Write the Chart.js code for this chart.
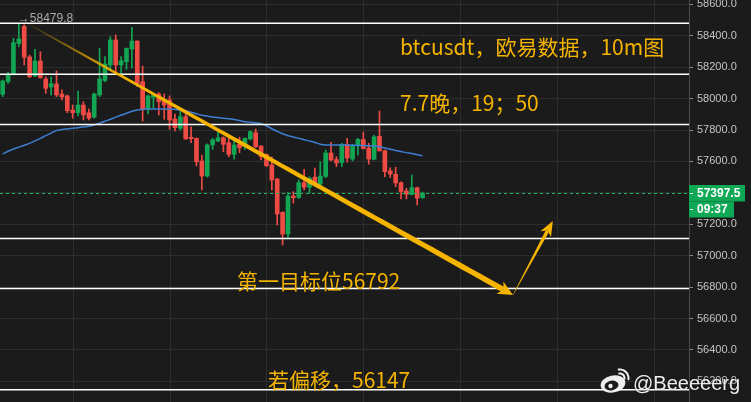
<!DOCTYPE html>
<html>
<head>
<meta charset="utf-8">
<script src="https://cdn.jsdelivr.net/npm/chart.js@4"></script>
<style>
  html, body { margin: 0; padding: 0; background: #1b1b1b; overflow: hidden; }
  canvas { display: block; }
</style>
</head>
<body>
<canvas id="c" width="751" height="402"></canvas>
<script>
// BTC/USDT 10-minute candles (OKX)
const candleOpen = [
  58027, 58108, 58158, 58350, 58460, 58265, 58144, 58239, 58125, 58074,
  58093, 58029, 58017, 57927, 57910, 57959, 57910, 57881, 58023, 58115,
  58214, 58373, 58214, 58235, 58316, 58366, 58107, 57932, 58008, 58029,
  57991, 57991, 57870, 57811, 57885, 57754, 57747, 57603, 57507, 57705,
  57730, 57751, 57719, 57645, 57709, 57694, 57743, 57783, 57698, 57645,
  57577, 57488, 57276, 57138, 57380, 57370, 57465, 57436, 57500, 57455,
  57505, 57654, 57612, 57593, 57709, 57615, 57702, 57740, 57685, 57614,
  57760, 57668, 57540, 57518, 57465, 57412, 57391, 57433, 57369
];
const candleHigh = [
  58118, 58167, 58384, 58479.8, 58470, 58277, 58314, 58298, 58139, 58139,
  58176, 58055, 58023, 57959, 58048, 57980, 57934, 58036, 58320, 58267,
  58394, 58405, 58267, 58322, 58454, 58368, 58207, 58023, 58034, 58038,
  58029, 58017, 57902, 57917, 57902, 57821, 57750, 57641, 57711, 57747,
  57789, 57757, 57751, 57737, 57754, 57751, 57796, 57806, 57700, 57648,
  57630, 57492, 57280, 57401, 57408, 57482, 57550, 57503, 57558, 57598,
  57673, 57722, 57630, 57715, 57747, 57709, 57747, 57786, 57715, 57768,
  57921, 57672, 57560, 57563, 57470, 57429, 57514, 57436, 57405
];
const candleLow = [
  58012, 58097, 58150, 58330, 58214, 58133, 58139, 58129, 58034, 58023,
  58012, 57991, 57910, 57875, 57889, 57864, 57864, 57875, 58012, 58107,
  58182, 58161, 58150, 58186, 58193, 58076, 57857, 57902, 57938, 57896,
  57868, 57805, 57794, 57800, 57740, 57719, 57571, 57418, 57500, 57677,
  57726, 57662, 57630, 57615, 57656, 57677, 57737, 57688, 57609, 57567,
  57418, 57196, 57068, 57111, 57334, 57365, 57418, 57397, 57444, 57439,
  57497, 57603, 57567, 57567, 57595, 57603, 57641, 57679, 57582, 57609,
  57665, 57503, 57497, 57439, 57361, 57361, 57386, 57323, 57365
];
const candleClose = [
  58112, 58155, 58356, 58380, 58263, 58139, 58239, 58133, 58065, 58095,
  58023, 58010, 57923, 57910, 57959, 57896, 57875, 58029, 58125, 58220,
  58373, 58214, 58241, 58320, 58366, 58097, 57932, 58017, 58023, 57980,
  57959, 57864, 57815, 57885, 57743, 57745, 57598, 57507, 57705, 57737,
  57751, 57709, 57645, 57705, 57687, 57747, 57789, 57694, 57630, 57573,
  57482, 57266, 57138, 57380, 57369, 57465, 57436, 57493, 57463, 57507,
  57654, 57609, 57590, 57709, 57622, 57702, 57740, 57682, 57615, 57757,
  57668, 57535, 57520, 57463, 57408, 57391, 57433, 57367, 57397.5
];
// moving average of the close
const movingAverage = [
  57647, 57665, 57679, 57691, 57703, 57715, 57731, 57747, 57764, 57780,
  57797, 57803, 57807, 57811, 57815, 57820, 57824, 57833, 57843, 57856,
  57868, 57882, 57894, 57907, 57919, 57928, 57931, 57933, 57934, 57934,
  57934, 57934, 57931, 57927, 57922, 57913, 57903, 57894, 57889, 57883,
  57879, 57875, 57871, 57867, 57860, 57853, 57849, 57845, 57840, 57827,
  57808, 57791, 57776, 57764, 57756, 57747, 57738, 57730, 57721, 57710,
  57705, 57705, 57705, 57705, 57704, 57703, 57702, 57701, 57700, 57699,
  57694, 57686, 57677, 57670, 57663, 57656, 57650, 57643, 57636
];
const priceTicks = [56200, 56400, 56600, 56800, 57000, 57200, 57400, 57600, 57800, 58000, 58200, 58400, 58600];
const levelLines = [58479.8, 58155, 57835, 57110, 56792, 56147];
const lastPrice = 57397.5;
const countdownText = '09:37';
const sessionHigh = 58479.8;
const sessionHighIndex = 3;
const timeGridSlots = [13, 31, 49, 67, 85, 103, 121];
const slotCount = 128;
const slots = Array.from({ length: slotCount }, (_, i) => String(i));

// drawn price path: [slot, price]
const pathArrows = [
  { from: [4.5, 58479.8], to: [94.8, 56750] },
  { from: [94.8, 56750], to: [102.2, 57221] }
];
const noteTexts = ['btcusdt，欧易数据，10m图', '7.7晚，19；50', '第一目标位56792', '若偏移，56147'];
const watermarkText = '@Beeeeerg';

// ---- styles ----
const UP = '#12a553';
const DOWN = '#ef4b45';
const GOLD = '#f5b400';
const noteLayout = [
  { x: 400, y: 55 },
  { x: 400, y: 111 },
  { x: 237, y: 288.5 },
  { x: 268, y: 388 }
];

const candleColors = candleOpen.map((o, i) => candleClose[i] >= o ? UP : DOWN);
const bodies = candleOpen.map((o, i) => [o, candleClose[i]]);
const wicks = candleLow.map((l, i) => [l, candleHigh[i]]);

function taperArrow(ctx, x0, y0, x1, y1, o) {
  const dx = x1 - x0, dy = y1 - y0, L = Math.hypot(dx, dy);
  const ux = dx / L, uy = dy / L, nx = -uy, ny = ux;
  const shaftLen = L - o.headLen * 0.75;
  const N = 60, left = [], right = [];
  for (let k = 0; k <= N; k++) {
    const t = k / N, s = t * shaftLen;
    const w = (o.w0 + (o.w1 - o.w0) * Math.pow(t, o.pow)) / 2;
    const px = x0 + ux * s, py = y0 + uy * s;
    left.push([px + nx * w, py + ny * w]);
    right.push([px - nx * w, py - ny * w]);
  }
  const grad = ctx.createLinearGradient(x0, y0, x1, y1);
  grad.addColorStop(0, o.startColor);
  grad.addColorStop(o.fade, o.color);
  grad.addColorStop(1, o.color);
  ctx.fillStyle = grad;
  ctx.beginPath();
  left.forEach(([x, y], i) => i ? ctx.lineTo(x, y) : ctx.moveTo(x, y));
  for (let k = right.length - 1; k >= 0; k--) ctx.lineTo(right[k][0], right[k][1]);
  ctx.closePath();
  ctx.fill();
  const bx = x1 - ux * o.headLen, by = y1 - uy * o.headLen;
  const mx = x1 - ux * o.headLen * 0.72, my = y1 - uy * o.headLen * 0.72;
  ctx.fillStyle = o.color;
  ctx.beginPath();
  ctx.moveTo(x1, y1);
  ctx.lineTo(bx + nx * o.headW, by + ny * o.headW);
  ctx.lineTo(mx, my);
  ctx.lineTo(bx - nx * o.headW, by - ny * o.headW);
  ctx.closePath();
  ctx.fill();
}

function weiboLogo(ctx, x, y) {
  const fg = 'rgba(250,250,250,0.95)';
  ctx.save();
  ctx.fillStyle = fg;
  ctx.beginPath(); ctx.ellipse(x, y, 12.5, 8.5, -0.2, 0, Math.PI * 2); ctx.fill();
  ctx.fillStyle = '#1b1b1b';
  ctx.beginPath(); ctx.ellipse(x - 1.5, y + 1.5, 7, 4.8, -0.2, 0, Math.PI * 2); ctx.fill();
  ctx.fillStyle = fg;
  ctx.beginPath(); ctx.arc(x - 2.5, y + 2, 2.2, 0, Math.PI * 2); ctx.fill();
  ctx.strokeStyle = fg;
  ctx.lineWidth = 2;
  ctx.lineCap = 'round';
  ctx.beginPath(); ctx.arc(x + 7, y - 6, 4.5, -Math.PI * 0.55, 0.15); ctx.stroke();
  ctx.beginPath(); ctx.arc(x + 7, y - 6, 8.5, -Math.PI * 0.55, 0.15); ctx.stroke();
  ctx.restore();
}

const overlayPlugin = {
  id: 'overlay',
  beforeDatasetsDraw(chart) {
    const { ctx, chartArea: a, scales: { x } } = chart;
    ctx.save();
    ctx.strokeStyle = '#2d2d2d';
    ctx.lineWidth = 1;
    timeGridSlots.forEach(s => {
      const px = Math.round(x.getPixelForValue(s)) + 0.5;
      ctx.beginPath(); ctx.moveTo(px, a.top); ctx.lineTo(px, a.bottom); ctx.stroke();
    });
    ctx.restore();
  },
  afterDatasetsDraw(chart) {
    const { ctx, chartArea: a, scales: { x, y } } = chart;
    ctx.save();
    ctx.beginPath(); ctx.rect(a.left, a.top, a.right - a.left, a.bottom - a.top); ctx.clip();

    // last price dashed line
    const py = y.getPixelForValue(lastPrice);
    ctx.strokeStyle = '#1fb864';
    ctx.lineWidth = 1;
    ctx.setLineDash([3, 3]);
    ctx.beginPath(); ctx.moveTo(a.left, Math.round(py) + 0.5); ctx.lineTo(a.right, Math.round(py) + 0.5); ctx.stroke();
    ctx.setLineDash([]);

    // horizontal level lines
    ctx.strokeStyle = '#ffffff';
    ctx.lineWidth = 1.5;
    levelLines.forEach(v => {
      const ly = y.getPixelForValue(v);
      ctx.beginPath(); ctx.moveTo(a.left, ly); ctx.lineTo(a.right, ly); ctx.stroke();
    });

    // high marker
    const hx = x.getPixelForValue(sessionHighIndex);
    const hy = y.getPixelForValue(sessionHigh);
    ctx.fillStyle = '#a9a9a9';
    ctx.font = '12px "Liberation Sans", "DejaVu Sans", sans-serif';
    ctx.textBaseline = 'alphabetic';
    ctx.textAlign = 'left';
    ctx.fillText('→' + sessionHigh.toFixed(1), hx - 1, hy - 1.5);

    // projected path
    const p = pathArrows.map(ar => ({
      x0: x.getPixelForValue(ar.from[0]), y0: y.getPixelForValue(ar.from[1]),
      x1: x.getPixelForValue(ar.to[0]), y1: y.getPixelForValue(ar.to[1])
    }));
    taperArrow(ctx, p[0].x0, p[0].y0, p[0].x1, p[0].y1, {
      w0: 0.6, w1: 5.6, pow: 0.55, headLen: 15, headW: 7, fade: 0.2,
      color: GOLD, startColor: 'rgba(245,180,0,0.12)'
    });
    taperArrow(ctx, p[1].x0, p[1].y0, p[1].x1, p[1].y1, {
      w0: 0.4, w1: 3.6, pow: 1, headLen: 15, headW: 6, fade: 0.01,
      color: GOLD, startColor: GOLD
    });

    // notes
    ctx.fillStyle = GOLD;
    ctx.font = '21px "Noto Sans CJK SC", "Noto Sans", sans-serif';
    noteTexts.forEach((t, i) => ctx.fillText(t, noteLayout[i].x, noteLayout[i].y));
    ctx.restore();
  },
  afterDraw(chart) {
    const { ctx, chartArea: a, scales: { y } } = chart;
    ctx.save();
    const py = y.getPixelForValue(lastPrice);
    const top = Math.round(py) - 8;
    ctx.fillStyle = '#0fa956';
    ctx.fillRect(a.right, top, 56, 16.5);
    ctx.fillRect(a.right, top + 16.5, 45, 16);
    ctx.fillStyle = '#ffffff';
    ctx.fillRect(a.right + 1, top + 8, 3, 1);
    ctx.fillRect(a.right + 1, top + 24, 3, 1);
    ctx.font = 'bold 12px "Liberation Sans", "DejaVu Sans", sans-serif';
    ctx.textBaseline = 'middle';
    ctx.textAlign = 'left';
    ctx.fillText(lastPrice.toFixed(1), a.right + 8, top + 8.5);
    ctx.fillText(countdownText, a.right + 8, top + 25);

    // watermark
    weiboLogo(ctx, 613, 384);
    ctx.fillStyle = 'rgba(250,250,250,0.95)';
    ctx.font = '20px "Liberation Sans", "DejaVu Sans", sans-serif';
    ctx.textBaseline = 'alphabetic';
    ctx.shadowColor = 'rgba(0,0,0,0.5)';
    ctx.shadowBlur = 2;
    ctx.fillText(watermarkText, 633, 389.5);
    ctx.restore();
  }
};

new Chart(document.getElementById('c'), {
  type: 'bar',
  data: {
    labels: slots,
    datasets: [
      {
        type: 'line', label: 'MA', data: movingAverage,
        borderColor: '#3e7fd3', borderWidth: 1.5, pointRadius: 0, tension: 0.3
      },
      {
        label: 'body', data: bodies, backgroundColor: candleColors,
        barThickness: 4, grouped: false, minBarLength: 1, borderWidth: 0
      },
      {
        label: 'wick', data: wicks, backgroundColor: candleColors,
        barThickness: 1, grouped: false, borderWidth: 0
      }
    ]
  },
  options: {
    responsive: false,
    devicePixelRatio: 1,
    animation: false,
    layout: { padding: 0 },
    plugins: { legend: { display: false }, tooltip: { enabled: false } },
    scales: {
      x: {
        offset: true,
        grid: { display: false },
        ticks: { display: false },
        border: { display: false },
        afterFit: s => { s.height = 0; s.paddingLeft = 0; s.paddingRight = 0; }
      },
      y: {
        position: 'right',
        min: 56069,
        max: 58627.4,
        afterBuildTicks: s => { s.ticks = priceTicks.map(v => ({ value: v })); },
        afterFit: s => { s.width = 62; s.paddingTop = 0; s.paddingBottom = 0; },
        grid: { color: '#2d2d2d', tickColor: '#8a8a8a', tickLength: 4, lineWidth: 1 },
        border: { display: true, color: '#4a4a4a' },
        ticks: {
          color: '#c4c4c4',
          padding: 4,
          font: { family: '"Liberation Sans", "DejaVu Sans", sans-serif', size: 11 },
          callback: v => Number(v).toFixed(1)
        }
      }
    }
  },
  plugins: [overlayPlugin]
});
</script>
</body>
</html>
